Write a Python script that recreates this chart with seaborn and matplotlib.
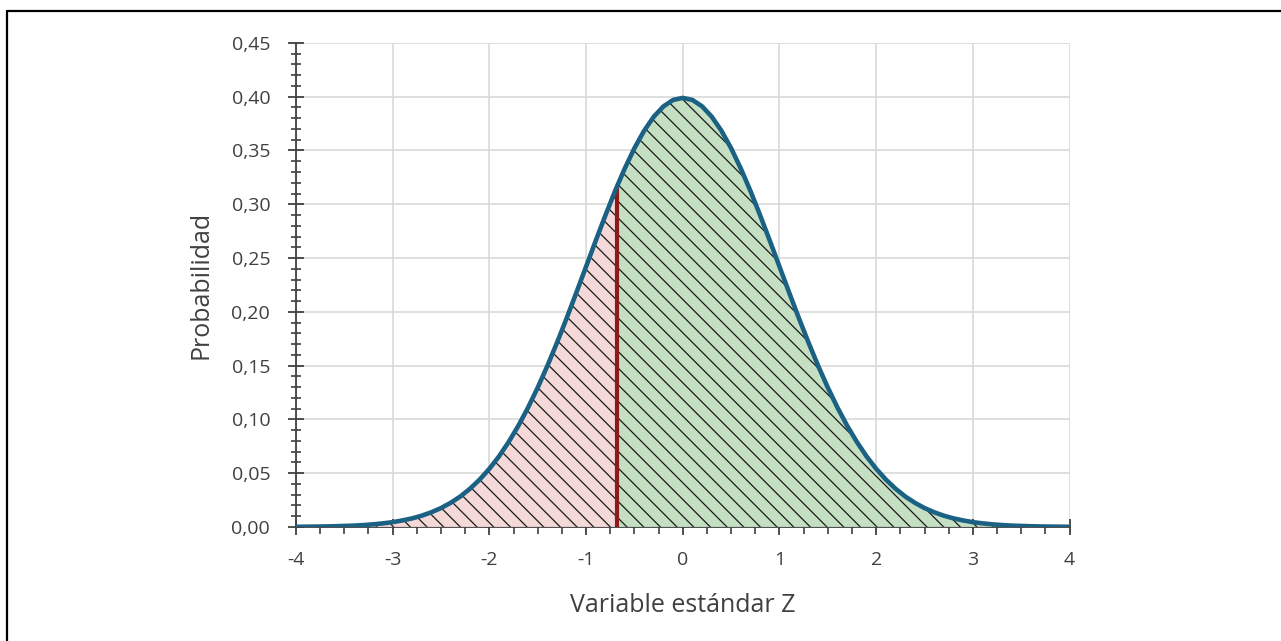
import numpy as np
import pandas as pd
import matplotlib
matplotlib.use("Agg")
import matplotlib.pyplot as plt
import seaborn as sns
from matplotlib.ticker import MultipleLocator, FuncFormatter
from matplotlib.lines import Line2D

# ---- data ----
z_pos = [0.0, 0.1, 0.2, 0.3, 0.4, 0.5, 0.6, 0.7, 0.8, 0.9, 1.0,
         1.1, 1.2, 1.3, 1.4, 1.5, 1.6, 1.7, 1.8, 1.9, 2.0,
         2.1, 2.2, 2.3, 2.4, 2.5, 2.6, 2.7, 2.8, 2.9, 3.0,
         3.1, 3.2, 3.3, 3.4, 3.5, 3.6, 3.7, 3.8, 3.9, 4.0]
p_pos = [0.3989, 0.3970, 0.3910, 0.3814, 0.3683, 0.3521, 0.3332, 0.3123, 0.2897, 0.2661, 0.2420,
         0.2179, 0.1942, 0.1714, 0.1497, 0.1295, 0.1109, 0.0940, 0.0790, 0.0656, 0.0540,
         0.0440, 0.0355, 0.0283, 0.0224, 0.0175, 0.0136, 0.0104, 0.0079, 0.0060, 0.0044,
         0.0033, 0.0024, 0.0017, 0.0012, 0.0009, 0.0006, 0.0004, 0.0003, 0.0002, 0.0001]
z_cut = -0.68
p_cut = 0.3166

# symmetric curve: negative side mirrors positive side
z_vals = [-v for v in z_pos[:0:-1]] + z_pos
p_vals = p_pos[:0:-1] + p_pos
df = pd.DataFrame({"z": z_vals, "p": p_vals})
df = pd.concat([df, pd.DataFrame({"z": [z_cut], "p": [p_cut]})]).sort_values("z").reset_index(drop=True)

left = df[df["z"] <= z_cut + 1e-9]
right = df[df["z"] >= z_cut - 1e-9]

x_ticks = [-4, -3, -2, -1, 0, 1, 2, 3, 4]

# ---- style ----
sns.set_style("white")
plt.rcParams["font.family"] = ["Open Sans", "DejaVu Sans"]
plt.rcParams["hatch.linewidth"] = 0.9
plt.rcParams["hatch.color"] = "#1a1a1a"

text_col = "#404040"
fig = plt.figure(figsize=(12.81, 6.41), dpi=100)
ax = fig.add_axes([0.231, 0.178, 0.604, 0.755])

ax.fill_between(left["z"], 0, left["p"], facecolor="#f5d8d8", edgecolor="#1a1a1a",
                hatch="\\\\", linewidth=0, zorder=2)
ax.fill_between(right["z"], 0, right["p"], facecolor="#c5dfc3", edgecolor="#1a1a1a",
                hatch="\\\\", linewidth=0, zorder=2)
sns.lineplot(data=df, x="z", y="p", ax=ax, color="#1b6183", linewidth=3.3,
             zorder=4, sort=True, estimator=None)
ax.vlines(z_cut, 0, p_cut, color="#8b1a1a", linewidth=3, zorder=3)

ax.set_xlim(-4, 4)
ax.set_ylim(0, 0.45)
ax.set_xticks(x_ticks)
ax.xaxis.set_minor_locator(MultipleLocator(0.25))
ax.yaxis.set_major_locator(MultipleLocator(0.05))
ax.yaxis.set_minor_locator(MultipleLocator(0.01))
ax.yaxis.set_major_formatter(FuncFormatter(lambda v, _: f"{v:.2f}".replace(".", ",")))
ax.xaxis.set_major_formatter(FuncFormatter(lambda v, _: f"{v:.0f}"))

ax.grid(True, which="major", color="#d9d9d9", linewidth=1.2, zorder=0)
ax.set_axisbelow(True)
for s in ["top", "right"]:
    ax.spines[s].set_visible(False)
for s in ["left", "bottom"]:
    ax.spines[s].set_color(text_col)
    ax.spines[s].set_linewidth(1.3)
    ax.spines[s].set_zorder(1)

ax.tick_params(axis="both", which="both", bottom=True, left=True, top=False, right=False)
ax.tick_params(axis="both", which="major", direction="inout", length=11, width=1.3,
               color=text_col, labelcolor=text_col, labelsize=14)
ax.tick_params(axis="both", which="minor", direction="out", length=5, width=1.2,
               color=text_col)
ax.tick_params(axis="y", which="minor", direction="inout", length=7)
ax.tick_params(axis="x", which="major", pad=12)
ax.tick_params(axis="y", which="major", pad=13)

ax.set_xlabel("Variable estándar Z", fontsize=18, color=text_col, labelpad=17)
ax.set_ylabel("Probabilidad", fontsize=18, color=text_col, labelpad=13)

fig.lines.append(Line2D([7 / 1281, 7 / 1281], [0, 1 - 11 / 641], transform=fig.transFigure,
                        color="black", linewidth=1.6))
fig.lines.append(Line2D([7 / 1281, 1], [1 - 11 / 641, 1 - 11 / 641], transform=fig.transFigure,
                        color="black", linewidth=1.6))

fig.savefig("out.png", dpi=100)
